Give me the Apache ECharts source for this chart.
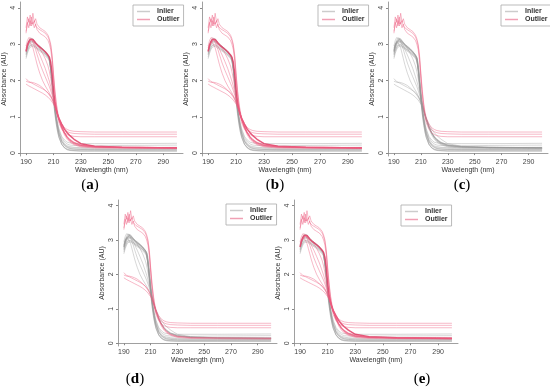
<!DOCTYPE html>
<html><head><meta charset="utf-8">
<script src="https://cdn.jsdelivr.net/npm/echarts@6/dist/echarts.min.js"></script>
<style>html,body{margin:0;padding:0;background:#fff}#c{width:550px;height:391px}</style>
</head><body><div id="c"></div>
<script>
// Wavelength grid (nm)
var wavelengths = [190,191,192,193,194,195,196,197,198,199,200,202,204,206,207,208,209,210,211,212,213,214,216,218,220,222,225,230,240,260,300];
var xTicks = [190,210,230,250,270,290];
var yTicks = [0,1,2,3,4];
var panelLabels = ['a','b','c','d','e'];

// Main bundle spectra
var G1 = [2.85,3.0,3.1,3.17,3.18,3.15,3.1,3.05,3.0,2.97,2.95,2.88,2.8,2.7,2.62,2.35,1.95,1.55,1.22,0.95,0.72,0.55,0.33,0.22,0.16,0.13,0.11,0.1,0.09,0.09,0.09];
var G2 = [2.75,2.88,2.97,3.03,3.05,3.04,3.01,2.97,2.93,2.9,2.88,2.82,2.75,2.66,2.58,2.3,1.88,1.45,1.1,0.82,0.6,0.44,0.24,0.14,0.09,0.07,0.06,0.05,0.05,0.05,0.05];
var G3 = [2.65,2.8,2.9,2.96,2.98,2.97,2.95,2.92,2.89,2.86,2.84,2.78,2.72,2.63,2.55,2.3,1.95,1.55,1.2,0.92,0.7,0.53,0.33,0.23,0.18,0.15,0.14,0.13,0.12,0.12,0.12];
var G4 = [2.8,2.95,3.05,3.1,3.12,3.1,3.06,3.02,2.98,2.95,2.92,2.86,2.78,2.69,2.62,2.4,2.05,1.65,1.3,1.02,0.8,0.63,0.42,0.31,0.25,0.22,0.21,0.2,0.2,0.21,0.22];
var G5 = [2.72,2.9,3.0,3.06,3.08,3.07,3.04,3.0,2.96,2.93,2.9,2.84,2.77,2.67,2.6,2.28,1.85,1.42,1.08,0.8,0.58,0.42,0.24,0.15,0.11,0.09,0.08,0.08,0.08,0.08,0.08];
var G6 = [2.7,2.83,2.92,2.98,3.0,2.99,2.96,2.93,2.9,2.87,2.85,2.79,2.72,2.64,2.57,2.32,1.98,1.6,1.26,0.98,0.76,0.58,0.37,0.26,0.2,0.18,0.16,0.15,0.15,0.15,0.16];
var G7 = [2.82,2.98,3.08,3.13,3.15,3.13,3.09,3.04,3.0,2.96,2.94,2.87,2.8,2.7,2.63,2.38,1.98,1.55,1.18,0.88,0.64,0.46,0.25,0.15,0.1,0.08,0.07,0.06,0.06,0.06,0.06];
var G8 = [2.78,2.92,3.02,3.08,3.1,3.08,3.05,3.01,2.97,2.94,2.91,2.85,2.78,2.68,2.61,2.36,1.97,1.57,1.22,0.93,0.7,0.52,0.31,0.2,0.15,0.12,0.11,0.1,0.1,0.1,0.11];
var G9 = [2.6,2.75,2.85,2.92,2.95,2.94,2.92,2.89,2.86,2.83,2.8,2.75,2.68,2.6,2.53,2.3,1.98,1.62,1.3,1.04,0.83,0.67,0.46,0.36,0.3,0.28,0.27,0.26,0.26,0.26,0.27];
// Slow-decay spectrum
var D1 = [2.8,2.96,3.07,3.13,3.15,3.13,3.08,3.03,2.98,2.95,2.92,2.86,2.79,2.7,2.64,2.5,2.2,1.75,1.4,1.2,1.05,0.95,0.8,0.66,0.56,0.48,0.38,0.26,0.19,0.16,0.14];
// High, noisy spectra with raised baseline
var H1 = [3.45,3.75,3.6,3.8,3.55,3.85,3.6,3.7,3.55,3.5,3.45,3.4,3.35,3.25,3.15,3.0,2.7,2.2,1.75,1.4,1.15,0.98,0.8,0.7,0.65,0.62,0.6,0.59,0.58,0.58,0.58];
var H2 = [3.35,3.55,3.7,3.5,3.75,3.55,3.65,3.5,3.45,3.42,3.4,3.35,3.3,3.2,3.1,2.95,2.65,2.15,1.7,1.35,1.1,0.92,0.74,0.64,0.59,0.56,0.54,0.53,0.52,0.52,0.52];
var H3 = [3.3,3.6,3.45,3.65,3.5,3.6,3.45,3.55,3.4,3.35,3.3,3.25,3.2,3.1,3.0,2.85,2.55,2.05,1.6,1.25,1.0,0.83,0.66,0.56,0.51,0.48,0.46,0.45,0.45,0.45,0.45];
// Low-start spectra
var L1 = [2.05,2.0,1.97,1.95,1.93,1.91,1.89,1.87,1.85,1.83,1.81,1.77,1.72,1.66,1.62,1.57,1.5,1.42,1.32,1.2,1.07,0.95,0.72,0.55,0.42,0.33,0.25,0.19,0.16,0.15,0.14];
var L2 = [1.9,1.87,1.85,1.83,1.81,1.79,1.77,1.75,1.73,1.71,1.69,1.65,1.6,1.54,1.5,1.46,1.41,1.35,1.27,1.17,1.05,0.94,0.72,0.55,0.43,0.34,0.26,0.2,0.17,0.16,0.15];
var L3 = [1.98,1.96,1.95,1.95,1.95,1.94,1.93,1.92,1.9,1.88,1.86,1.8,1.73,1.65,1.6,1.54,1.47,1.38,1.28,1.16,1.03,0.9,0.68,0.5,0.38,0.3,0.23,0.17,0.14,0.13,0.12];
// Early-dropping spectra
var M1 = [2.9,3.0,3.05,3.05,3.0,2.9,2.75,2.6,2.45,2.32,2.2,2.0,1.85,1.72,1.66,1.58,1.5,1.4,1.3,1.18,1.05,0.93,0.72,0.56,0.45,0.37,0.29,0.22,0.18,0.16,0.15];
var M2 = [2.95,3.1,3.18,3.2,3.15,3.05,2.95,2.85,2.72,2.6,2.48,2.28,2.1,1.92,1.83,1.72,1.6,1.48,1.36,1.22,1.08,0.96,0.74,0.58,0.46,0.38,0.3,0.23,0.18,0.16,0.15];
var M3 = [2.85,2.97,3.05,3.1,3.1,3.07,3.02,2.95,2.87,2.78,2.7,2.52,2.33,2.1,1.98,1.84,1.68,1.52,1.38,1.23,1.08,0.95,0.73,0.56,0.44,0.36,0.28,0.21,0.17,0.15,0.14];
var M4 = [2.8,2.95,3.05,3.1,3.12,3.1,3.07,3.03,2.98,2.93,2.88,2.75,2.6,2.4,2.25,2.05,1.82,1.58,1.38,1.2,1.05,0.92,0.7,0.54,0.43,0.35,0.28,0.21,0.17,0.15,0.14];

var curveNames = ['G1','G2','G3','G4','G5','G6','G7','G8','G9','D1','H1','H2','H3','L1','L2','L3','M1','M2','M3','M4'];
var curves = {G1:G1,G2:G2,G3:G3,G4:G4,G5:G5,G6:G6,G7:G7,G8:G8,G9:G9,D1:D1,H1:H1,H2:H2,H3:H3,L1:L1,L2:L2,L3:L3,M1:M1,M2:M2,M3:M3,M4:M4};

// Outliers flagged in each panel
var outA = ['D1','H1','H2','H3','L1','L2','L3','M1','M2','M3','M4'];
var outB = ['D1','H1','H2','H3','L1','L2','L3','M1','M2','M3','M4'];
var outC = ['H1','H2','H3'];
var outD = ['H1','H2','H3','L1','L2','L3'];
var outE = ['D1','H1','H2','H3','L1','L2','L3','M1','M2','M3','M4'];
var outliers = [outA,outB,outC,outD,outE];

var grids = [
  {left:17, top:2, width:166, height:154},
  {left:202, top:2, width:166, height:154},
  {left:388, top:2, width:160, height:154},
  {left:118, top:200, width:159, height:146},
  {left:294, top:200, width:164, height:146}
];
var legendPos = [[133,5],[318,5],[501,5],[226,204],[401,205]];
var labelPos = [[90,185],[275,185],[462,185],[135,379],[422,379]];

var INL = 'rgba(150,150,150,0.45)';
var OUTC = 'rgba(235,90,125,0.5)';
var font = 'Liberation Sans';

var xAxes = [], yAxes = [], series = [], legends = [], graphics = [];
grids.forEach(function(g, p){
  xAxes.push({gridIndex:p, type:'value', min:185.6, max:304.4,
    name:'Wavelength (nm)', nameLocation:'middle', nameGap:10,
    nameTextStyle:{fontFamily:font, fontSize:7, color:'#333'},
    axisLine:{lineStyle:{color:'#888', width:0.8}},
    axisTick:{customValues:xTicks, length:2, lineStyle:{color:'#888'}},
    axisLabel:{customValues:xTicks, margin:3, fontFamily:font, fontSize:7, color:'#444'},
    splitLine:{show:false}});
  yAxes.push({gridIndex:p, type:'value', min:-0.08, max:4.16,
    name:'Absorbance (AU)', nameLocation:'middle', nameGap:12,
    nameTextStyle:{fontFamily:font, fontSize:7, color:'#333'},
    axisLine:{show:true, lineStyle:{color:'#888', width:0.8}},
    axisTick:{show:true, customValues:yTicks, length:2, lineStyle:{color:'#888'}},
    axisLabel:{customValues:yTicks, rotate:90, margin:3, fontFamily:font, fontSize:7, color:'#444'},
    splitLine:{show:false}});
  var outs = outliers[p];
  curveNames.forEach(function(cn){
    var isOut = outs.indexOf(cn) >= 0;
    var vals = curves[cn];
    var col = isOut ? (cn==='D1' ? 'rgba(225,60,100,0.85)' : OUTC) : INL;
    series.push({type:'line', name: isOut ? 'Outlier' : 'Inlier',
      xAxisIndex:p, yAxisIndex:p, symbol:'none', showSymbol:false, silent:true,
      color: col, z: isOut ? 3 : 2,
      lineStyle:{color:col, width: (isOut && cn==='D1') ? 1.5 : 0.85},
      data: wavelengths.map(function(w,i){return [w, vals[i]];})});
  });
  legends.push({left:legendPos[p][0], top:legendPos[p][1], orient:'vertical',
    icon:'rect', itemWidth:13, itemHeight:1.5, itemGap:1,
    padding:[3,4,3,4], borderColor:'#aaa', borderWidth:0.8,
    textStyle:{fontFamily:font, fontSize:7, fontWeight:'bold', color:'#333', padding:[0,0,0,2]},
    data:[
      {name:'Inlier', itemStyle:{color:'#cccccc', borderColor:'#cccccc', borderWidth:0}, lineStyle:{color:'#cccccc'}},
      {name:'Outlier', itemStyle:{color:'#f0a0b4', borderColor:'#f0a0b4', borderWidth:0}, lineStyle:{color:'#f0a0b4'}}
    ],
    selectedMode:false});
  graphics.push({type:'text', x:labelPos[p][0], y:labelPos[p][1],
    style:{text:'({b|'+panelLabels[p]+'})', align:'center', verticalAlign:'middle',
      font:'15px "Liberation Serif"', fill:'#000',
      rich:{b:{fontFamily:'Liberation Serif', fontSize:15, fontWeight:'bold', fill:'#000'}}}});
});

var chart = echarts.init(document.getElementById('c'), null, {renderer:'canvas'});
chart.setOption({
  animation:false,
  grid: grids,
  xAxis: xAxes,
  yAxis: yAxes,
  legend: legends,
  series: series,
  graphic: graphics
});
</script>
</body></html>
